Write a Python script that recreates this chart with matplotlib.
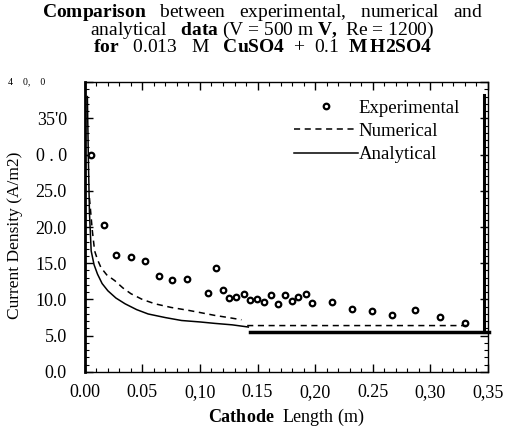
import matplotlib.pyplot as plt
import numpy as np
from matplotlib.ticker import MultipleLocator
import matplotlib.transforms as mtransforms

plt.rcParams['font.family'] = 'Liberation Serif'
plt.rcParams['mathtext.fontset'] = 'custom'
plt.rcParams['mathtext.rm'] = 'Liberation Serif'
plt.rcParams['mathtext.bf'] = 'Liberation Serif:bold'

# experimentelle punkter
exp_x = [0.005, 0.0166, 0.0273, 0.040, 0.052, 0.064, 0.076, 0.0885, 0.107, 0.114,
         0.1196, 0.125, 0.1315, 0.138, 0.1437, 0.1495, 0.156, 0.162, 0.168, 0.174,
         0.1795, 0.1853, 0.192, 0.1975, 0.215, 0.232, 0.249, 0.2665, 0.287, 0.3087, 0.3305]
exp_y = [30.0, 20.3, 16.2, 15.8, 15.3, 13.3, 12.7, 12.8, 10.9, 14.3,
         11.3, 10.2, 10.4, 10.7, 9.9, 10.1, 9.7, 10.6, 9.4, 10.6,
         9.8, 10.3, 10.8, 9.5, 9.6, 8.7, 8.4, 7.9, 8.5, 7.6, 6.8]

# numerisk losning
num_x = [0.004, 0.0065, 0.0085, 0.011, 0.014, 0.019, 0.026, 0.033, 0.040, 0.050,
         0.061, 0.075, 0.090, 0.100, 0.113, 0.125, 0.136, np.nan, 0.141, 0.335]
num_y = [24, 19.5, 16.7, 15.5, 14.4, 13.4, 12.6, 11.6, 10.8, 10.0,
         9.4, 8.9, 8.5, 8.2, 7.8, 7.5, 7.2, np.nan, 6.4, 6.4]

# analytisk losning
ana_x = [0.0022, 0.003, 0.004, 0.0055, 0.008, 0.011, 0.015, 0.020, 0.027, 0.035,
         0.045, 0.055, 0.070, 0.084, 0.100, 0.113, 0.128, 0.142]
ana_y = [38, 30, 22, 16.7, 14.8, 13.5, 12.2, 11.2, 10.2, 9.4,
         8.6, 8.0, 7.5, 7.1, 6.9, 6.7, 6.5, 6.2]

# tykke streker til hoyre
flat_x = [0.1435, 0.351]
flat_y = [5.45, 5.45]
bar_x = [0.3465, 0.3465]
bar_y = [5.45, 38.2]

xticks = [0, 0.05, 0.10, 0.15, 0.20, 0.25, 0.30, 0.35]
xlabels = ['0.00', '0.05', '0,10', '0.15', '0,20', '0.25', '0,30', '0,35']
yticks = [0, 5, 10, 15, 20, 25, 30, 35, 40]
ylabels = ['0.0', '5.0', '10.0', '15.0', '20.0', '25.0', '0 . 0', "35'0", '']

fig = plt.figure(figsize=(5.05, 4.32), dpi=100)
ax = fig.add_axes([0.168, 0.139, 0.798, 0.671])

ax.plot(exp_x, exp_y, 'o', ms=4, mfc='white', mec='black', mew=1.6, label='Experimental')
ax.plot(num_x, num_y, '--', color='black', lw=1.1, dashes=(4, 3), label='Numerical')
ax.plot(ana_x, ana_y, '-', color='black', lw=1.1, label='Analytical')
ax.plot(flat_x, flat_y, '-', color='black', lw=2.5, clip_on=False)
ax.plot(bar_x, bar_y, '-', color='black', lw=2.2)

ax.set_xlim(0, 0.35)
ax.set_ylim(0, 40)
ax.set_xticks(xticks)
ax.set_xticklabels(xlabels, fontsize=13)
ax.set_yticks(yticks)
ax.set_yticklabels(ylabels, fontsize=13)
ax.xaxis.set_minor_locator(MultipleLocator(0.01))
ax.yaxis.set_minor_locator(MultipleLocator(1))
ax.tick_params(which='both', direction='in', top=True, right=True)
ax.tick_params(which='major', length=6, width=1)
ax.tick_params(axis='x', which='major', pad=9)
ax.tick_params(axis='y', which='major', pad=13)
ax.tick_params(which='minor', length=3, width=0.8)

# liten etikett for 40
trans = mtransforms.blended_transform_factory(ax.transAxes, ax.transData)
ax.text(-0.099, 40, '4    0,    0', transform=trans, ha='right', va='center', fontsize=7)

ax.spines['left'].set_linewidth(2)
ax.spines['bottom'].set_linewidth(1)
ax.spines['top'].set_linewidth(1)
ax.spines['right'].set_linewidth(1)

ax.set_ylabel('Current Density (A/m2)', fontsize=12.5)
ax.yaxis.set_label_coords(-0.153, 0.47)
ax.set_xlabel(r'$\mathbf{Cathode}$  Length (m)', fontsize=13, labelpad=4)

ax.legend(loc='upper left', bbox_to_anchor=(0.50, 0.965), frameon=False, fontsize=13.5,
          handlelength=3.4, handletextpad=0.05, labelspacing=0.32, borderaxespad=0)

title = '\n'.join([
    r'$\mathbf{Comparison}$   between   experimental,   numerical   and',
    r'analytical   $\mathbf{data}$ (V = 500 m $\mathbf{V,}$ Re = 1200)',
    r'$\mathbf{for}$   0.013   M   $\mathbf{CuSO4}$  +  0.1  $\mathbf{M\,H2SO4}$',
])
fig.text(0.52, 1 - 29 / 432, title, ha='center', va='center', multialignment='center',
         fontsize=14, linespacing=0.82)

fig.savefig('out.png', dpi=100)
